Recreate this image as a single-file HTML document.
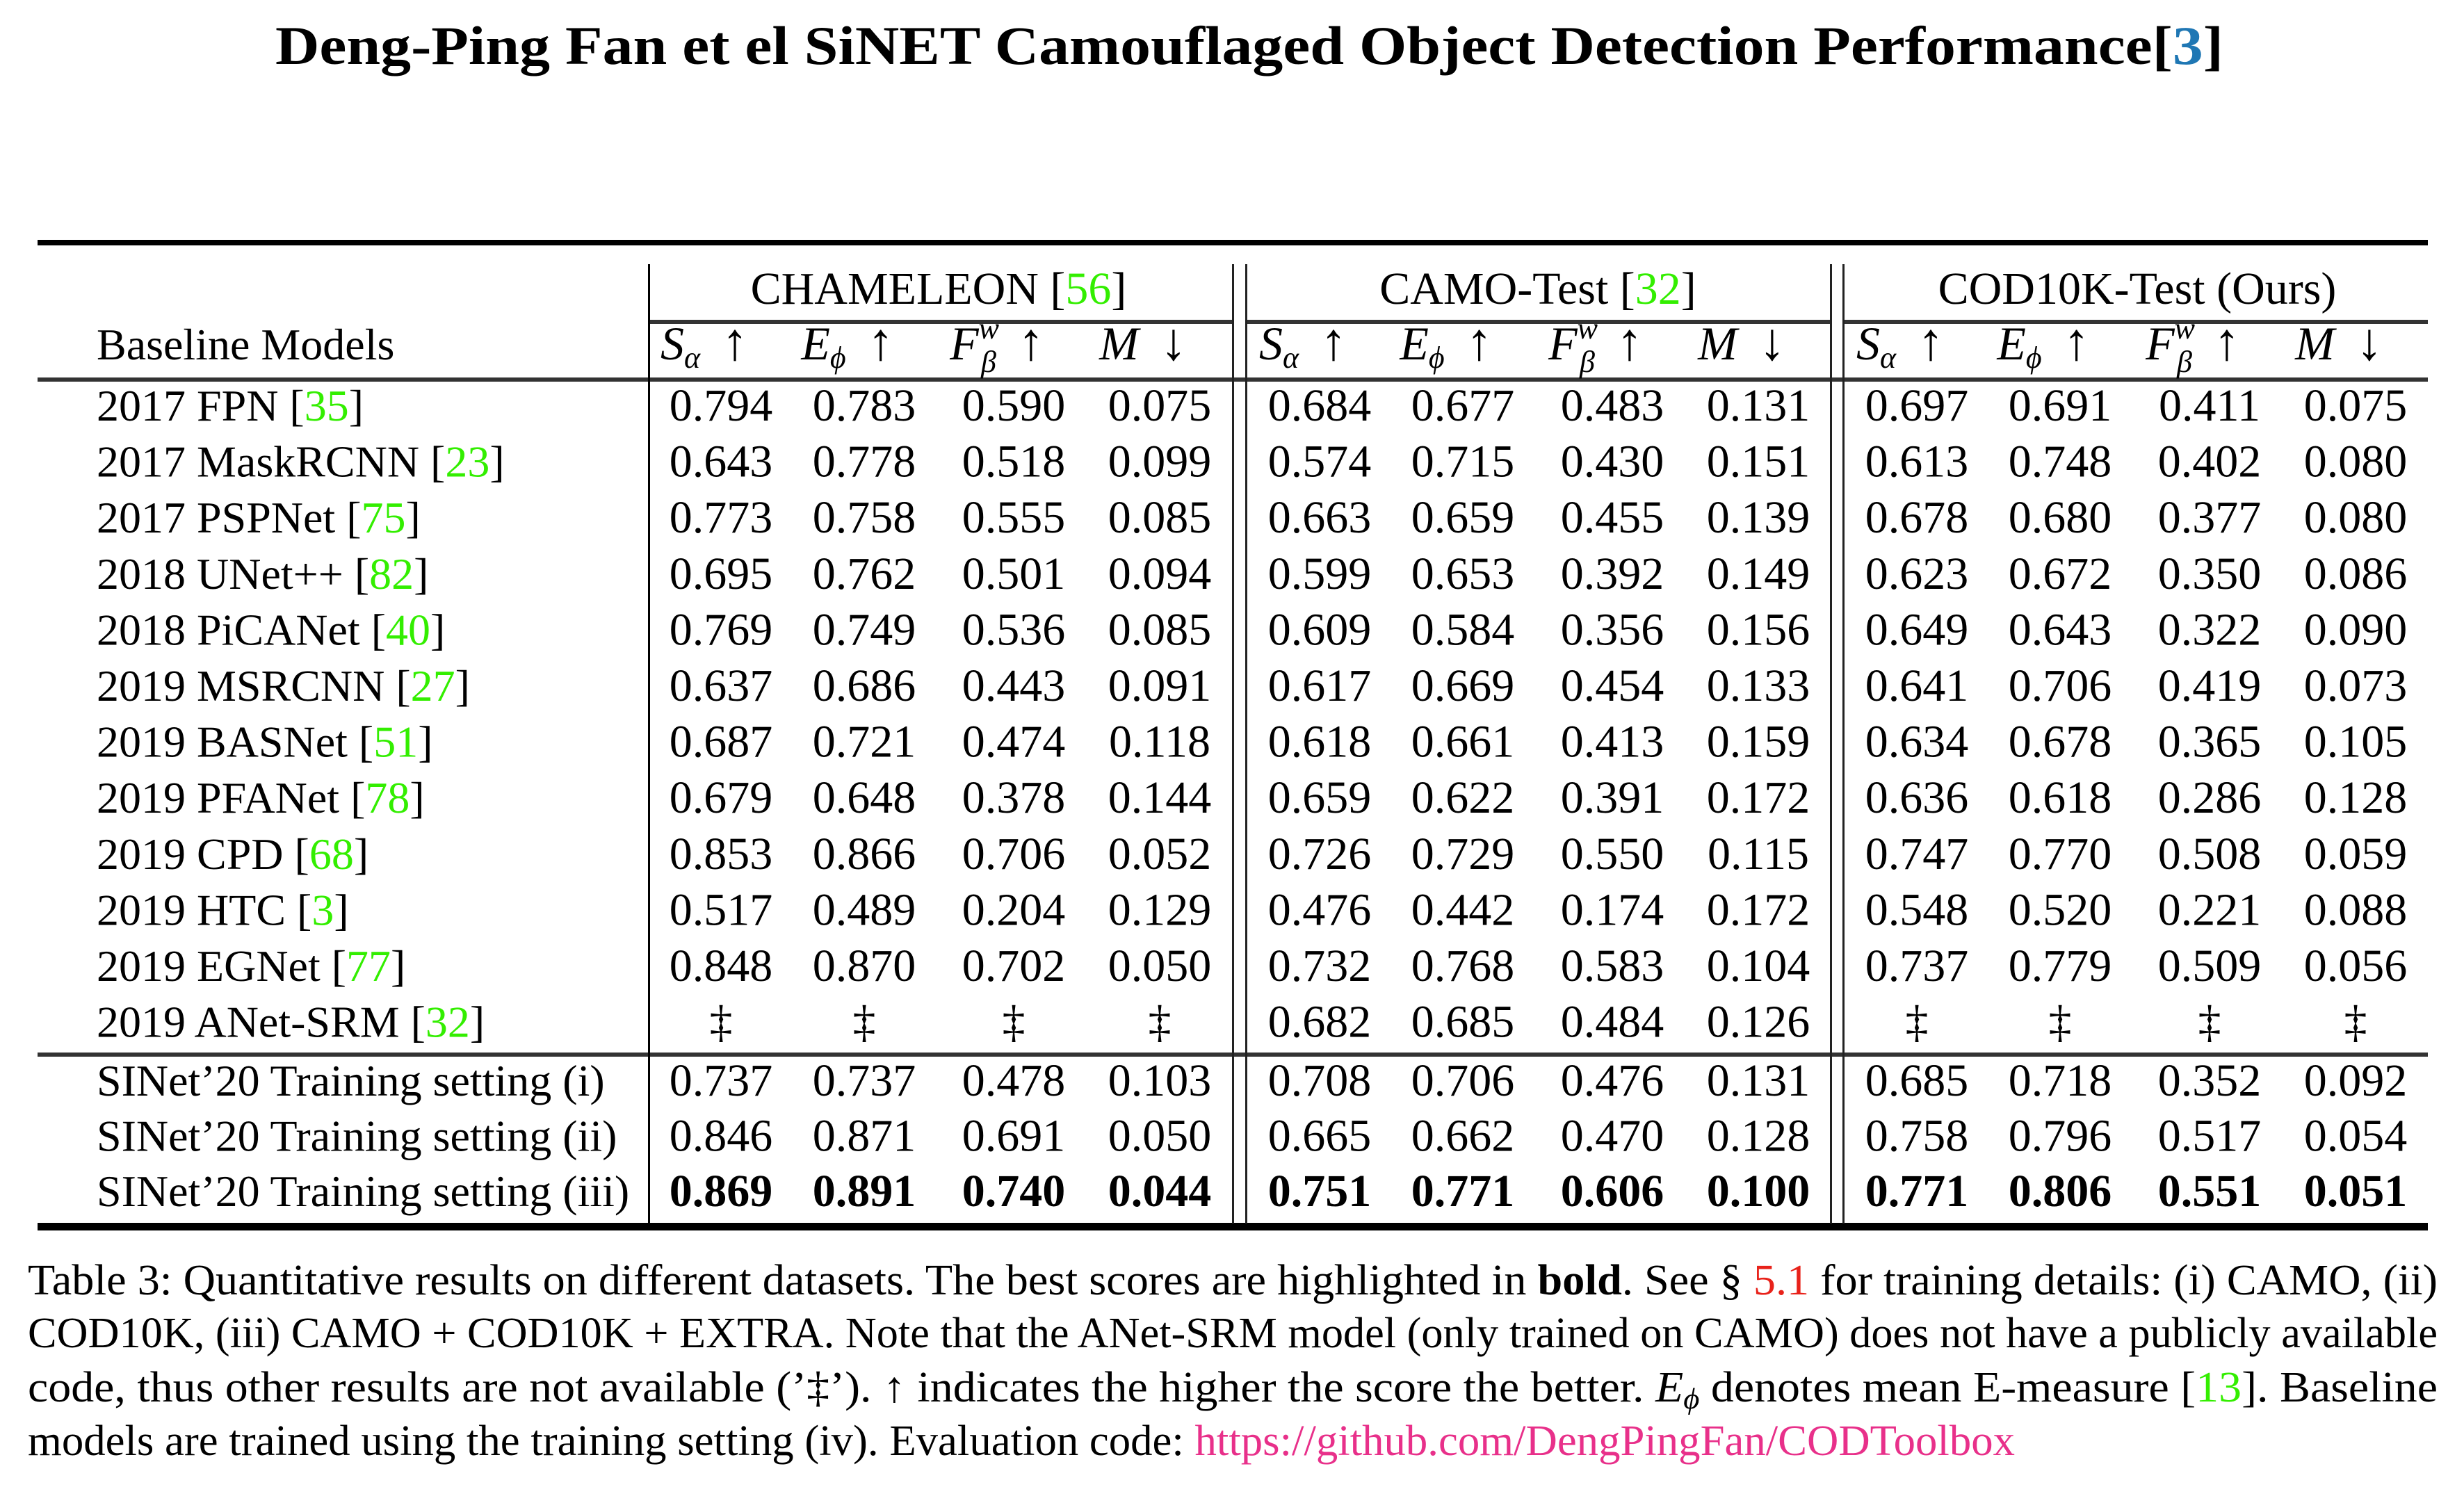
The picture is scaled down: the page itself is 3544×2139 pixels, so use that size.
<!DOCTYPE html>
<html><head><meta charset="utf-8"><style>
html,body{margin:0;padding:0;background:#fff;}
svg{display:block;}
text{font-family:"Liberation Serif",serif;fill:#000;}
</style></head><body>
<svg id="chart" width="3544" height="2139" viewBox="0 0 3544 2139" xmlns="http://www.w3.org/2000/svg">
<text x="396" y="92" font-size="78" font-weight="bold" textLength="2802" lengthAdjust="spacingAndGlyphs">Deng-Ping Fan et el SiNET Camouflaged Object Detection Performance[<tspan fill="#1f77b4">3</tspan>]</text>
<g id="rules">
<rect x="54" y="345" width="3438" height="8" fill="#000"/>
<rect x="933" y="460" width="841" height="6" fill="#333"/>
<rect x="1793" y="460" width="840" height="6" fill="#333"/>
<rect x="2651" y="460" width="841" height="6" fill="#333"/>
<rect x="54" y="543" width="3438" height="6" fill="#333"/>
<rect x="54" y="1514" width="3438" height="6" fill="#333"/>
<rect x="54" y="1759" width="3438" height="11" fill="#000"/>
<rect x="932" y="380" width="3" height="1380" fill="#000"/>
<rect x="1772" y="380" width="3" height="1380" fill="#222"/>
<rect x="1791" y="380" width="3" height="1380" fill="#222"/>
<rect x="2632" y="380" width="3" height="1380" fill="#222"/>
<rect x="2650" y="380" width="3" height="1380" fill="#222"/>
</g>
<g font-size="66">
<text x="1350" y="437" text-anchor="middle">CHAMELEON [<tspan fill="#33ee00">56</tspan>]</text>
<text x="2212" y="437" text-anchor="middle">CAMO-Test [<tspan fill="#33ee00">32</tspan>]</text>
<text x="3074" y="437" text-anchor="middle">COD10K-Test (Ours)</text>
<text x="139" y="517" font-size="64">Baseline Models</text>
</g>
<g id="metrics"></g>
<g id="body"></g>
<g font-size="62">
<text x="40" y="1862" textLength="3466" lengthAdjust="spacingAndGlyphs">Table 3: Quantitative results on different datasets. The best scores are highlighted in <tspan font-weight="bold">bold</tspan>. See § <tspan fill="#e8221a">5.1</tspan> for training details: (i) CAMO, (ii)</text>
<text x="40" y="1938" textLength="3466" lengthAdjust="spacingAndGlyphs">COD10K, (iii) CAMO + COD10K + EXTRA. Note that the ANet-SRM model (only trained on CAMO) does not have a publicly available</text>
<text x="40" y="2016" textLength="3466" lengthAdjust="spacingAndGlyphs">code, thus other results are not available (’‡’). ↑ indicates the higher the score the better. <tspan font-style="italic">E</tspan><tspan font-style="italic" font-size="42" dy="10">ϕ</tspan><tspan dy="-10"> denotes mean E-measure [</tspan><tspan fill="#33ee00">13</tspan>].  Baseline</text>
<text x="40" y="2093" textLength="2858" lengthAdjust="spacingAndGlyphs">models are trained using the training setting (iv). Evaluation code: <tspan fill="#e8308a">https://github.com/DengPingFan/CODToolbox</tspan></text>
</g>
</svg>
<script>
const models = ["2017 FPN","2017 MaskRCNN","2017 PSPNet","2018 UNet++","2018 PiCANet","2019 MSRCNN","2019 BASNet","2019 PFANet","2019 CPD","2019 HTC","2019 EGNet","2019 ANet-SRM","SINet’20 Training setting (i)","SINet’20 Training setting (ii)","SINet’20 Training setting (iii)"];
const refs = ["35","23","75","82","40","27","51","78","68","3","77","32","","",""];
const values = [
["0.794","0.783","0.590","0.075","0.684","0.677","0.483","0.131","0.697","0.691","0.411","0.075"],
["0.643","0.778","0.518","0.099","0.574","0.715","0.430","0.151","0.613","0.748","0.402","0.080"],
["0.773","0.758","0.555","0.085","0.663","0.659","0.455","0.139","0.678","0.680","0.377","0.080"],
["0.695","0.762","0.501","0.094","0.599","0.653","0.392","0.149","0.623","0.672","0.350","0.086"],
["0.769","0.749","0.536","0.085","0.609","0.584","0.356","0.156","0.649","0.643","0.322","0.090"],
["0.637","0.686","0.443","0.091","0.617","0.669","0.454","0.133","0.641","0.706","0.419","0.073"],
["0.687","0.721","0.474","0.118","0.618","0.661","0.413","0.159","0.634","0.678","0.365","0.105"],
["0.679","0.648","0.378","0.144","0.659","0.622","0.391","0.172","0.636","0.618","0.286","0.128"],
["0.853","0.866","0.706","0.052","0.726","0.729","0.550","0.115","0.747","0.770","0.508","0.059"],
["0.517","0.489","0.204","0.129","0.476","0.442","0.174","0.172","0.548","0.520","0.221","0.088"],
["0.848","0.870","0.702","0.050","0.732","0.768","0.583","0.104","0.737","0.779","0.509","0.056"],
["‡","‡","‡","‡","0.682","0.685","0.484","0.126","‡","‡","‡","‡"],
["0.737","0.737","0.478","0.103","0.708","0.706","0.476","0.131","0.685","0.718","0.352","0.092"],
["0.846","0.871","0.691","0.050","0.665","0.662","0.470","0.128","0.758","0.796","0.517","0.054"],
["0.869","0.891","0.740","0.044","0.751","0.771","0.606","0.100","0.771","0.806","0.551","0.051"]
];
const boldRows = [14];
const colX = [1037,1243,1458,1668,1898,2104,2319,2529,2757,2963,3178,3388];
const NS="http://www.w3.org/2000/svg";
function rowY(i){ return i<12 ? 605+i*80.6 : 1576+(i-12)*79.5; }
const body=document.getElementById('body');
models.forEach((m,i)=>{
  const t=document.createElementNS(NS,'text');
  t.setAttribute('x',139); t.setAttribute('y',rowY(i)); t.setAttribute('font-size','64');
  
  
  t.textContent=m+(refs[i]?' [':'');
  if(refs[i]){
    const g=document.createElementNS(NS,'tspan'); g.setAttribute('fill','#33ee00'); g.textContent=refs[i]; t.appendChild(g);
    t.appendChild(document.createTextNode(']'));
  }
  body.appendChild(t);
  values[i].forEach((v,j)=>{
    const c=document.createElementNS(NS,'text');
    c.setAttribute('x',colX[j]); c.setAttribute('y',rowY(i)); c.setAttribute('font-size','66');
    c.setAttribute('text-anchor','middle');
    if(boldRows.includes(i)) c.setAttribute('font-weight','bold');
    
    
    c.textContent=v; body.appendChild(c);
  });
});
const met=document.getElementById('metrics');
const heads=[["S","α","","↑"],["E","ϕ","","↑"],["F","β","w","↑"],["M","","","↓"]];
colX.forEach((x,j)=>{
  const h=heads[j%4];
  const t=document.createElementNS(NS,'text');
  t.setAttribute('x',x-24); t.setAttribute('y',517); t.setAttribute('font-size','68'); t.setAttribute('text-anchor','middle');
  
  
  const arrow='<tspan font-size="76" dx="14">'+h[3]+'</tspan>';
  let s='<tspan font-style="italic">'+h[0]+'</tspan>';
  if(h[2]) s+='<tspan font-style="italic" font-size="44" dy="-30">'+h[2]+'</tspan><tspan font-style="italic" font-size="44" dx="-26" dy="48">'+h[1]+'</tspan><tspan dy="-18"> </tspan>'+arrow;
  else if(h[1]) s+='<tspan font-style="italic" font-size="44" dy="12">'+h[1]+'</tspan><tspan dy="-12"> </tspan>'+arrow;
  else s+='<tspan> </tspan>'+arrow;
  t.innerHTML=s; met.appendChild(t);
});
</script>
</body></html>
